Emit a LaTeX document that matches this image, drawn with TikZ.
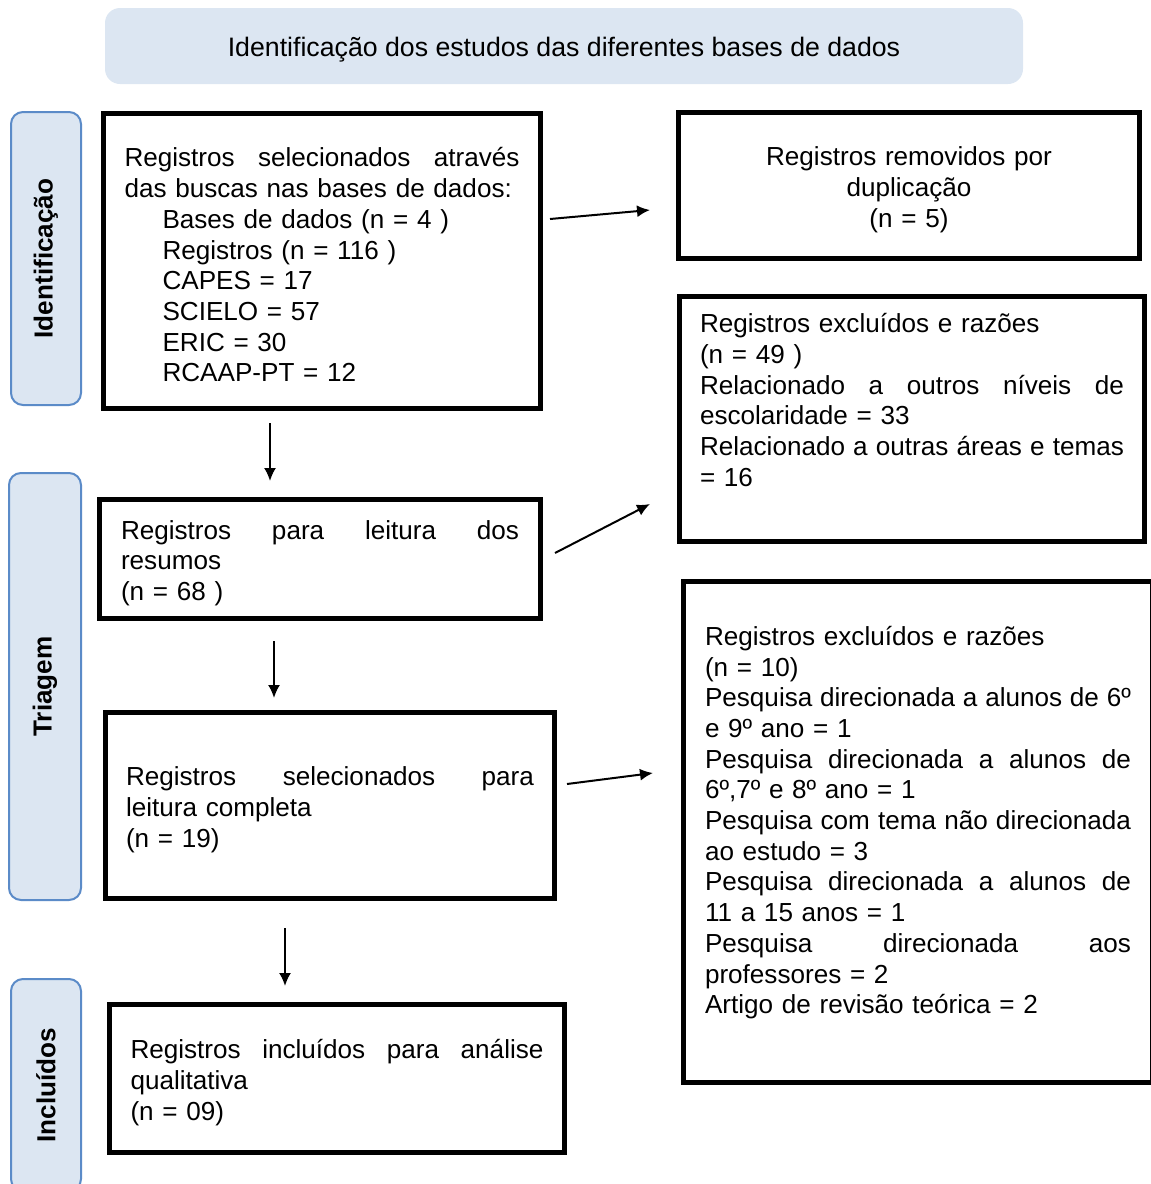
\documentclass[tikz,border=0pt]{standalone}
\usepackage{fontspec}
\setmainfont{Liberation Sans}
\usetikzlibrary{positioning,arrows.meta,calc}
\definecolor{fasefundo}{HTML}{DCE6F2}
\definecolor{faseborda}{HTML}{5B8BC8}
\newlength{\larg}
\newcommand{\jl}[1]{\makebox[\larg][s]{\spaceskip=0pt\relax\xspaceskip=0pt\relax #1}}
\newcommand{\fundo}[1]{\rule[-#1]{0pt}{0pt}}
\tikzset{
    caixa/.style={draw, line width=5pt, align=left, inner sep=0pt, text width=#1,
        execute at begin node={\setlength{\larg}{#1}\rule{0pt}{27pt}}},
    fase/.style={draw=faseborda, fill=fasefundo, line width=2pt, rounded corners=12pt, inner sep=0pt},
    seta/.style={line width=2pt, -{Latex[length=13pt,width=12pt]}}
}

\begin{document}
\begin{tikzpicture}[x=1pt, y=-1pt, font=\fontsize{26.1}{30.7}\selectfont]
                \clip (0,0) rectangle (1151,1184);
                \node[fill=fasefundo, rounded corners=15pt, minimum width=918pt, minimum height=76pt, font=\fontsize{26.7}{30.7}\selectfont] (topo) at (564,46) {\rule{0pt}{26pt}Identificação dos estudos das diferentes bases de dados};
                \node[fase, minimum width=70pt, minimum height=293pt] (ident) at (46,258.5) {\rotatebox{90}{\bfseries Identificação}};
                \node[fase, minimum width=72pt, minimum height=427pt] (triag) at (45,686.5) {\rotatebox{90}{\bfseries Triagem}};
                \node[fase, minimum width=70pt, minimum height=212pt] (inclu) at (46,1085) {\rotatebox{90}{\bfseries Incluídos}};
                \node[caixa=395pt, minimum width=437pt, minimum height=295pt] (busca) at (322,261) {\jl{Registros selecionados através}\\
                    das buscas nas bases de dados:\\
                    \hspace*{38pt}Bases de dados (n = 4 )\\
                    \hspace*{38pt}Registros (n = 116 )\\
                    \hspace*{38pt}CAPES = 17\\
                    \hspace*{38pt}SCIELO = 57\\
                    \hspace*{38pt}ERIC = 30\\
                    \hspace*{38pt}RCAAP-PT = 12};
                \node[caixa=400pt, align=center, minimum width=461pt, minimum height=146pt] (dupl) at (909,185.5) {Registros removidos por\\ duplicação\\ (n = 5)};
                \node[caixa=424pt, minimum width=465pt, minimum height=245pt] (excl1) at (912,419) {Registros excluídos e razões\\
                    (n = 49 )\\
                    \jl{Relacionado a outros níveis de}\\
                    escolaridade = 33\\
                    \jl{Relacionado a outras áreas e temas}\\
                    = 16\fundo{46pt}};
                \node[caixa=398pt, minimum width=441pt, minimum height=119pt] (resumo) at (320,559) {\jl{Registros para leitura dos}\\
                    resumos\\
                    (n = 68 )};
                \node[caixa=408pt, minimum width=449pt, minimum height=186pt] (compl) at (330,805.5) {\jl{Registros selecionados para}\\
                    leitura completa\\
                    (n = 19)};
                \node[caixa=426pt, minimum width=469pt, minimum height=501pt] (excl2) at (918,832) {Registros excluídos e razões\\
                    (n = 10)\\
                    \jl{Pesquisa direcionada a alunos de 6º}\\
                    e 9º ano = 1\\
                    \jl{Pesquisa direcionada a alunos de}\\
                    6º,7º e 8º ano = 1\\
                    \jl{Pesquisa com tema não direcionada}\\
                    ao estudo = 3\\
                    \jl{Pesquisa direcionada a alunos de}\\
                    11 a 15 anos = 1\\
                    \jl{Pesquisa direcionada aos}\\
                    professores = 2\\
                    Artigo de revisão teórica = 2\fundo{32pt}};
                \node[caixa=413pt, minimum width=455pt, minimum height=148pt] (final) at (337,1078.5) {\jl{Registros incluídos para análise}\\
                    qualitativa\\
                    (n = 09)};
                \coordinate (s1a) at (550,219);
                \coordinate (s1b) at (650,210);
                \coordinate (s2a) at (270,423);
                \coordinate (s2b) at (270,481);
                \coordinate (s3a) at (555,553);
                \coordinate (s3b) at (650,504);
                \coordinate (s4a) at (274,641);
                \coordinate (s4b) at (274,698);
                \coordinate (s5a) at (567,784);
                \coordinate (s5b) at (653,773);
                \coordinate (s6a) at (285,928);
                \coordinate (s6b) at (285,986);
                \draw[seta] (s1a) -- (s1b);
                \draw[seta] (s2a) -- (s2b);
                \draw[seta] (s3a) -- (s3b);
                \draw[seta] (s4a) -- (s4b);
                \draw[seta] (s5a) -- (s5b);
                \draw[seta] (s6a) -- (s6b);
            \end{tikzpicture}
\end{document}
